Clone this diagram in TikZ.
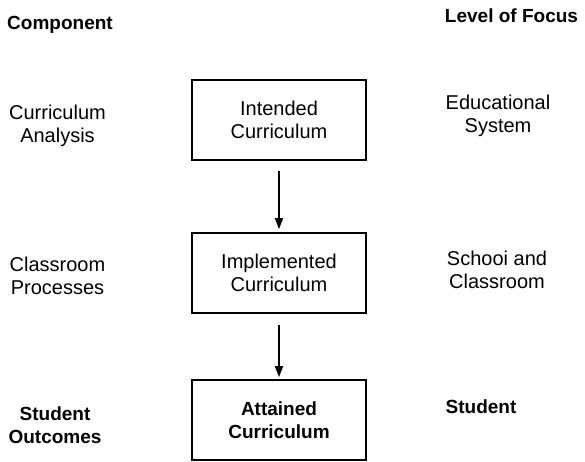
\documentclass[tikz,border=0pt]{standalone}
\usepackage{fontspec}
\setmainfont{Liberation Sans}
\usetikzlibrary{arrows.meta}
\begin{document}
\begin{tikzpicture}[x=1pt,y=-1pt,
  lbl/.style={align=center,inner sep=0pt,font=\fontsize{20}{23}\selectfont},
  blbl/.style={align=center,inner sep=0pt,font=\fontsize{19}{23}\selectfont\bfseries},
  curbox/.style={draw,line width=1.8pt,minimum width=174pt,minimum height=80pt,align=center,inner sep=0pt,font=\fontsize{20}{23}\selectfont},
  flow/.style={line width=1.6pt,-{Triangle[length=11pt,width=8pt]}}]
\useasboundingbox (0,0) rectangle (585,461);
\node[blbl] (comp) at (60,25) {Component};
\node[blbl] (focus) at (511.5,15.5) {Level of Focus};
\node[curbox] (intended) at (279,120) {Intended\\Curriculum};
\node[curbox] (implemented) at (279,273) {Implemented\\Curriculum};
\node[curbox,font=\fontsize{19}{23}\selectfont\bfseries] (attained) at (279,420) {Attained\\Curriculum};
\node[lbl] (analysis) at (57.5,126) {Curriculum\\Analysis};
\node[lbl] (processes) at (57.5,275.5) {Classroom\\Processes};
\node[blbl] (outcomes) at (55,425) {Student\\Outcomes};
\node[lbl] (system) at (498,116) {Educational\\System};
\node[lbl] (school) at (497,270) {Schooi and\\Classroom};
\node[blbl] (student) at (481,407) {Student};
\draw[flow,shorten <=10pt,shorten >=3pt] (intended) -- (implemented);
\draw[flow,shorten <=11pt,shorten >=2pt] (implemented) -- (attained);
\end{tikzpicture}
\end{document}
